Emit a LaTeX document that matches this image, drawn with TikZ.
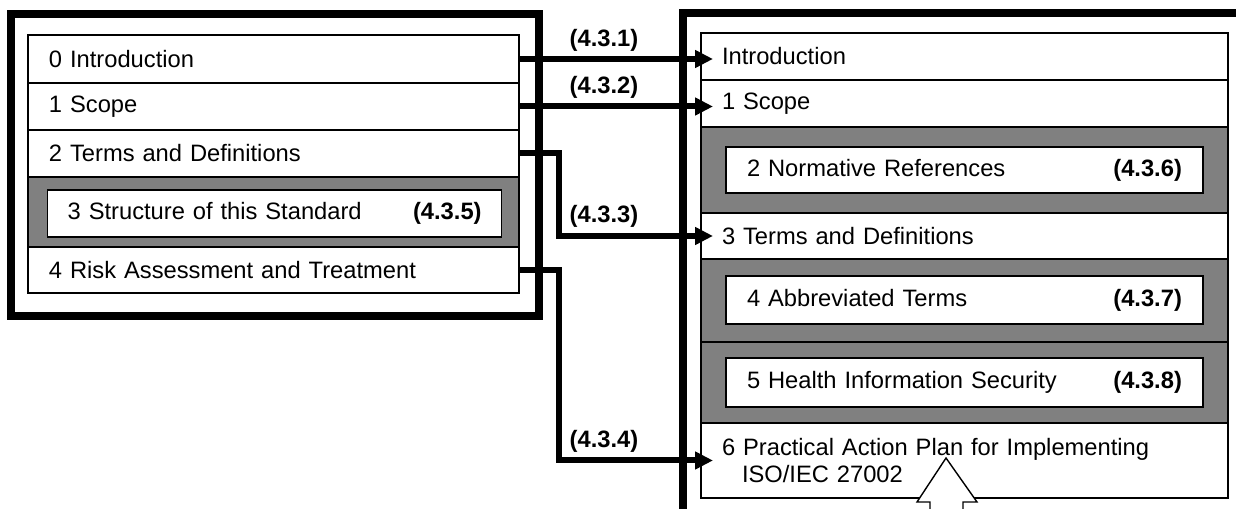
\documentclass[tikz,border=0pt]{standalone}
\usepackage{fontspec}
\setmainfont{Liberation Sans}
\usetikzlibrary{arrows.meta}

\begin{document}
\begin{tikzpicture}
    [%%%%%%%%%%%%%%%%%%%%%%%%%%%%%%
        x=0.02cm, y=-0.02cm,
        every node/.style={font=\fontsize{13.5}{15.5}\selectfont},
        frame/.style={draw=black, line width=0.16cm},
        row/.style={draw=black, line width=0.8pt, fill=white, anchor=north west,
            outer sep=0pt, inner xsep=0.42cm, inner ysep=0pt, align=left, minimum height=#1},
        band/.style={row=#1, fill=gray},
        lrow/.style={row=#1, text width=8.98cm},
        rrow/.style={row=#1, text width=9.70cm},
        lsub/.style={row=#1, inner xsep=0.4cm, text width=8.28cm},
        rsub/.style={row=#1, text width=8.70cm},
        link/.style={draw=black, line width=0.12cm, shorten >=-0.24cm,
            -{Triangle[length=0.36cm,width=0.34cm]}},
        tag/.style={font=\fontsize{13.5}{15.5}\selectfont\bfseries, inner sep=0pt},
        hollow/.style={draw=black, line width=0.8pt, fill=white, line join=miter}
    ]%%%%%%%%%%%%%%%%%%%%%%%%%%%%%%

\useasboundingbox (0,0) rectangle (1236,509);
\clip (0,0) rectangle (1236,509);

% outer frames
\draw[frame] (11,14) rectangle (539,316);
\draw[frame] (683,13) rectangle (1300,580);

% left side
\foreach \n/\y/\h/\t in {0/35/48/0 Introduction, 1/83/47/1 Scope, 2/130/47/2 Terms and Definitions, 4/247/46/4 Risk Assessment and Treatment}
    \node[lrow=\h*0.02cm] (l\n) at (28,\y) {\t};
\node[band=1.4cm, minimum width=9.82cm] (l3) at (28,177) {};
\node[lsub=0.94cm] (s3) at (47.7,190) {3 Structure of this Standard\hfill\textbf{(4.3.5)}};

% right side
\node[rrow=0.94cm] (r0) at (701,33) {Introduction};
\node[rrow=0.94cm] (r1) at (701,80) {1 Scope};
\node[band=1.72cm, minimum width=10.54cm] (r2) at (701,127) {};
\node[rrow=0.92cm] (r3) at (701,213) {3 Terms and Definitions};
\node[band=1.66cm, minimum width=10.54cm] (r4) at (701,259) {};
\node[band=1.62cm, minimum width=10.54cm] (r5) at (701,342) {};
\node[rrow=1.5cm] (r6) at (701,423) {6 Practical Action Plan for Implementing\\\hspace*{0.4cm}ISO/IEC 27002};
\node[rsub=0.92cm] (n2) at (726,147) {2 Normative References\hfill\textbf{(4.3.6)}};
\node[rsub=0.96cm] (n4) at (726,276) {4 Abbreviated Terms\hfill\textbf{(4.3.7)}};
\node[rsub=0.98cm] (n5) at (726,358) {5 Health Information Security\hfill\textbf{(4.3.8)}};

% mapping arrows
\coordinate (bend) at (559,0);
\draw[link] (l0.east) -- (l0.east -| r0.west);
\draw[link] (l1.east) -- (l1.east -| r1.west);
\draw[link] (l2.east) -- (l2.east -| bend) |- (r3.west);
\draw[link] (l4.east) -- (l4.east -| bend) |- (r6.west);

\node[tag] (t1) at (604,40) {(4.3.1)};
\node[tag] (t2) at (604,87) {(4.3.2)};
\node[tag] (t3) at (604,216) {(4.3.3)};
\node[tag] (t4) at (604,441) {(4.3.4)};

% big open arrow from below
\draw[hollow] (930,530) -- (930,502) -- (917,502) -- (946,458) -- (977,502) -- (963,502) -- (963,530);

\end{tikzpicture}
\end{document}
